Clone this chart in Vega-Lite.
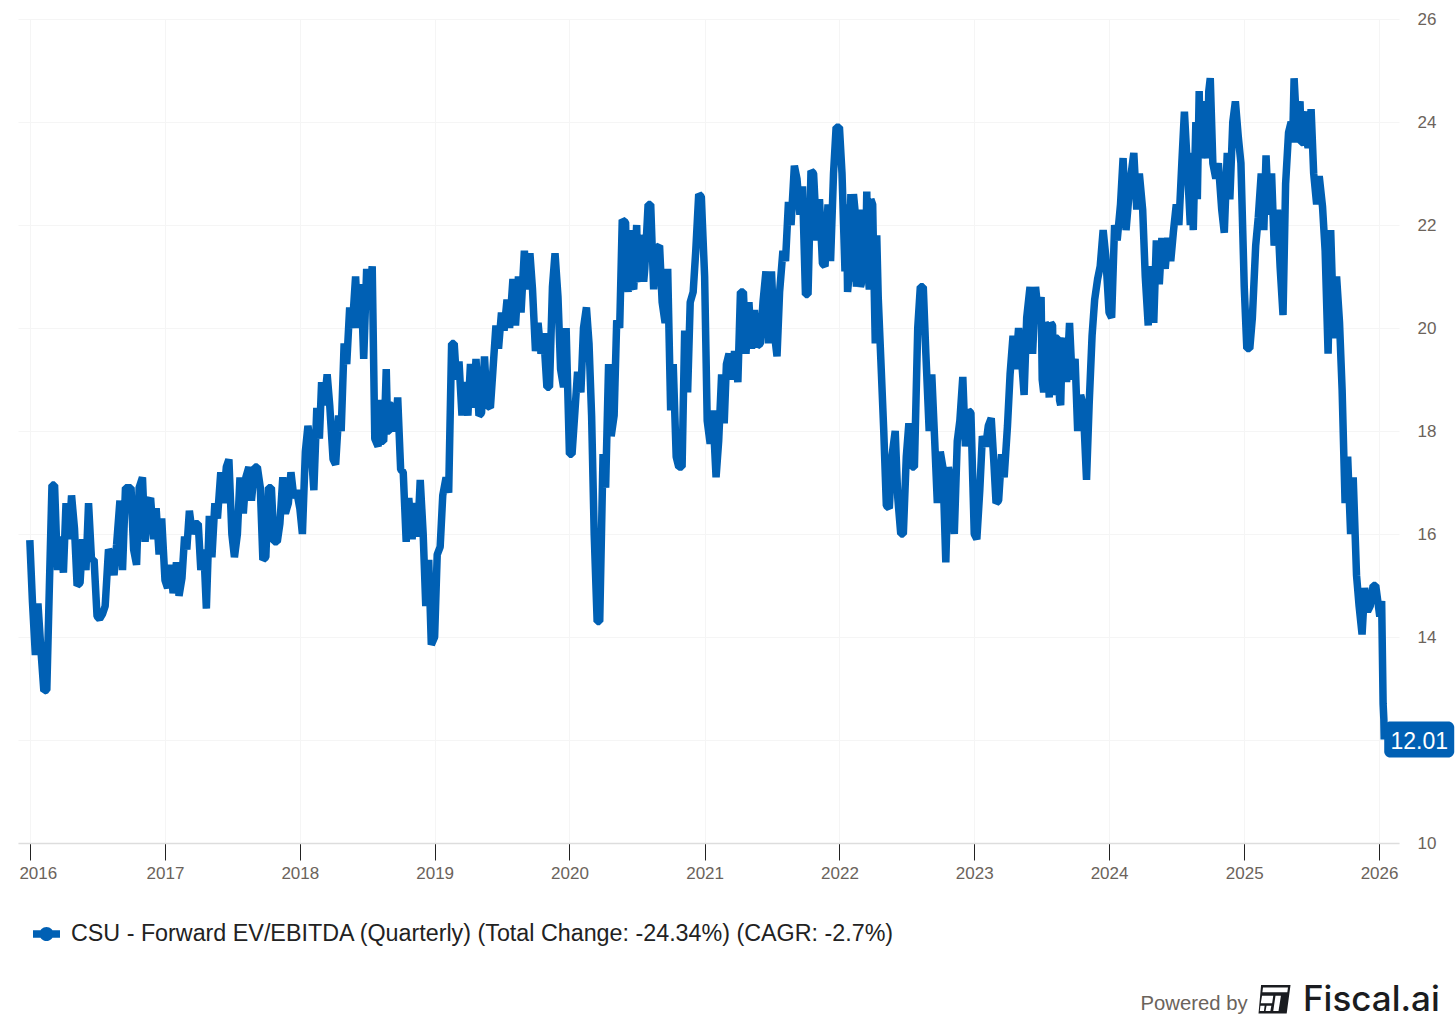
{"$schema":"https://vega.github.io/schema/vega-lite/v6.json","width":1381,"height":824,"autosize":{"type":"none"},"padding":{"left":18,"top":19,"right":57,"bottom":189},"background":"#ffffff","config":{"view":{"stroke":null},"font":"Liberation Sans"},
"data":{"values":[
{"d":"2016-01-01","v":15.88},{"d":"2016-01-08","v":14.7},{"d":"2016-01-16","v":13.65},{"d":"2016-01-23","v":14.65},{"d":"2016-02-01","v":13.65},{"d":"2016-02-08","v":12.95},{"d":"2016-02-16","v":12.97},{"d":"2016-02-23","v":15.0},{"d":"2016-03-01","v":16.95},{"d":"2016-03-08","v":16.95},{"d":"2016-03-16","v":15.3},{"d":"2016-03-23","v":15.95},{"d":"2016-04-01","v":15.25},{"d":"2016-04-08","v":16.6},{"d":"2016-04-16","v":15.9},{"d":"2016-04-23","v":16.75},{"d":"2016-05-01","v":16.1},{"d":"2016-05-08","v":15.0},{"d":"2016-05-16","v":15.05},{"d":"2016-05-23","v":15.9},{"d":"2016-06-01","v":15.3},{"d":"2016-06-08","v":16.6},{"d":"2016-06-16","v":15.5},{"d":"2016-06-23","v":15.5},{"d":"2016-07-01","v":14.4},{"d":"2016-07-08","v":14.35},{"d":"2016-07-16","v":14.45},{"d":"2016-07-23","v":14.6},{"d":"2016-08-01","v":15.7},{"d":"2016-08-08","v":15.6},{"d":"2016-08-16","v":15.2},{"d":"2016-08-23","v":15.8},{"d":"2016-09-01","v":16.65},{"d":"2016-09-08","v":15.3},{"d":"2016-09-16","v":16.9},{"d":"2016-09-23","v":16.9},{"d":"2016-10-01","v":16.9},{"d":"2016-10-08","v":15.7},{"d":"2016-10-16","v":15.4},{"d":"2016-10-23","v":16.9},{"d":"2016-11-01","v":17.1},{"d":"2016-11-08","v":15.85},{"d":"2016-11-16","v":16.6},{"d":"2016-11-23","v":16.7},{"d":"2016-12-01","v":15.9},{"d":"2016-12-08","v":16.5},{"d":"2016-12-16","v":15.6},{"d":"2016-12-23","v":16.3},
{"d":"2017-01-01","v":15.1},{"d":"2017-01-08","v":14.95},{"d":"2017-01-16","v":15.4},{"d":"2017-01-23","v":14.85},{"d":"2017-02-01","v":15.45},{"d":"2017-02-08","v":14.8},{"d":"2017-02-16","v":15.15},{"d":"2017-02-23","v":15.95},{"d":"2017-03-01","v":15.7},{"d":"2017-03-08","v":16.45},{"d":"2017-03-16","v":16.0},{"d":"2017-03-23","v":16.2},{"d":"2017-04-01","v":16.2},{"d":"2017-04-08","v":15.3},{"d":"2017-04-16","v":15.7},{"d":"2017-04-23","v":14.55},{"d":"2017-05-01","v":16.35},{"d":"2017-05-08","v":15.55},{"d":"2017-05-16","v":16.6},{"d":"2017-05-23","v":16.3},{"d":"2017-06-01","v":17.2},{"d":"2017-06-08","v":16.6},{"d":"2017-06-16","v":17.3},{"d":"2017-06-23","v":17.45},{"d":"2017-07-01","v":16.0},{"d":"2017-07-08","v":15.55},{"d":"2017-07-16","v":16.0},{"d":"2017-07-23","v":17.1},{"d":"2017-08-01","v":16.4},{"d":"2017-08-08","v":17.1},{"d":"2017-08-16","v":17.3},{"d":"2017-08-23","v":16.65},{"d":"2017-09-01","v":17.3},{"d":"2017-09-08","v":17.3},{"d":"2017-09-16","v":16.9},{"d":"2017-09-23","v":15.5},{"d":"2017-10-01","v":15.55},{"d":"2017-10-08","v":16.9},{"d":"2017-10-16","v":16.9},{"d":"2017-10-23","v":15.85},{"d":"2017-11-01","v":15.85},{"d":"2017-11-08","v":16.2},{"d":"2017-11-16","v":17.1},{"d":"2017-11-23","v":16.4},{"d":"2017-12-01","v":16.6},{"d":"2017-12-08","v":17.2},{"d":"2017-12-16","v":16.7},{"d":"2017-12-23","v":16.85},
{"d":"2018-01-01","v":16.5},{"d":"2018-01-08","v":16.0},{"d":"2018-01-16","v":17.6},{"d":"2018-01-23","v":18.1},{"d":"2018-02-01","v":17.6},{"d":"2018-02-08","v":16.85},{"d":"2018-02-16","v":18.45},{"d":"2018-02-23","v":17.85},{"d":"2018-03-01","v":18.95},{"d":"2018-03-08","v":18.5},{"d":"2018-03-16","v":19.1},{"d":"2018-03-23","v":18.5},{"d":"2018-04-01","v":17.45},{"d":"2018-04-08","v":17.35},{"d":"2018-04-16","v":18.3},{"d":"2018-04-23","v":18.0},{"d":"2018-05-01","v":19.7},{"d":"2018-05-08","v":19.3},{"d":"2018-05-16","v":20.4},{"d":"2018-05-23","v":20.0},{"d":"2018-06-01","v":21.0},{"d":"2018-06-08","v":20.0},{"d":"2018-06-16","v":20.85},{"d":"2018-06-23","v":19.4},{"d":"2018-07-01","v":21.15},{"d":"2018-07-08","v":20.5},{"d":"2018-07-16","v":21.2},{"d":"2018-07-23","v":17.85},{"d":"2018-08-01","v":17.7},{"d":"2018-08-04","v":18.4},{"d":"2018-08-08","v":18.6},{"d":"2018-08-12","v":17.8},{"d":"2018-08-16","v":17.8},{"d":"2018-08-20","v":18.5},{"d":"2018-08-23","v":19.2},{"d":"2018-08-27","v":18.0},{"d":"2018-09-01","v":18.0},{"d":"2018-09-04","v":18.5},{"d":"2018-09-08","v":18.5},{"d":"2018-09-12","v":18.1},{"d":"2018-09-16","v":18.0},{"d":"2018-09-23","v":18.65},{"d":"2018-10-01","v":17.25},{"d":"2018-10-08","v":17.2},{"d":"2018-10-16","v":15.85},{"d":"2018-10-23","v":16.7},{"d":"2018-11-01","v":15.9},{"d":"2018-11-08","v":16.6},{"d":"2018-11-16","v":15.95},{"d":"2018-11-23","v":17.05},{"d":"2018-12-01","v":16.0},{"d":"2018-12-08","v":14.6},{"d":"2018-12-16","v":15.5},{"d":"2018-12-23","v":13.85},
{"d":"2019-01-01","v":14.0},{"d":"2019-01-08","v":15.6},{"d":"2019-01-16","v":15.75},{"d":"2019-01-23","v":16.75},{"d":"2019-02-01","v":17.1},{"d":"2019-02-08","v":16.8},{"d":"2019-02-16","v":19.7},{"d":"2019-02-23","v":19.7},{"d":"2019-03-01","v":19.0},{"d":"2019-03-08","v":19.35},{"d":"2019-03-16","v":18.3},{"d":"2019-03-23","v":18.95},{"d":"2019-04-01","v":18.3},{"d":"2019-04-08","v":19.3},{"d":"2019-04-16","v":18.45},{"d":"2019-04-23","v":19.4},{"d":"2019-05-01","v":18.3},{"d":"2019-05-08","v":18.35},{"d":"2019-05-16","v":19.45},{"d":"2019-05-23","v":18.5},{"d":"2019-06-01","v":18.45},{"d":"2019-06-08","v":19.2},{"d":"2019-06-16","v":20.05},{"d":"2019-06-23","v":19.6},{"d":"2019-07-01","v":20.3},{"d":"2019-07-08","v":19.95},{"d":"2019-07-16","v":20.55},{"d":"2019-07-23","v":20.0},{"d":"2019-08-01","v":20.95},{"d":"2019-08-08","v":20.05},{"d":"2019-08-16","v":21.0},{"d":"2019-08-23","v":20.3},{"d":"2019-09-01","v":21.5},{"d":"2019-09-08","v":20.75},{"d":"2019-09-16","v":21.45},{"d":"2019-09-23","v":20.75},{"d":"2019-10-01","v":19.55},{"d":"2019-10-08","v":20.1},{"d":"2019-10-16","v":19.5},{"d":"2019-10-23","v":19.9},{"d":"2019-11-01","v":18.85},{"d":"2019-11-08","v":18.85},{"d":"2019-11-16","v":20.8},{"d":"2019-11-23","v":21.45},{"d":"2019-12-01","v":20.6},{"d":"2019-12-08","v":19.2},{"d":"2019-12-16","v":18.85},{"d":"2019-12-23","v":20.0},
{"d":"2020-01-01","v":17.55},{"d":"2020-01-08","v":17.55},{"d":"2020-01-16","v":18.4},{"d":"2020-01-23","v":19.15},{"d":"2020-02-01","v":18.75},{"d":"2020-02-08","v":20.0},{"d":"2020-02-16","v":20.4},{"d":"2020-02-23","v":19.7},{"d":"2020-03-01","v":18.3},{"d":"2020-03-08","v":16.0},{"d":"2020-03-16","v":14.3},{"d":"2020-03-23","v":14.3},{"d":"2020-04-01","v":17.55},{"d":"2020-04-08","v":16.9},{"d":"2020-04-16","v":19.3},{"d":"2020-04-23","v":17.9},{"d":"2020-05-01","v":18.3},{"d":"2020-05-08","v":20.15},{"d":"2020-05-16","v":20.0},{"d":"2020-05-23","v":22.1},{"d":"2020-06-01","v":22.05},{"d":"2020-06-04","v":21.0},{"d":"2020-06-08","v":20.7},{"d":"2020-06-12","v":21.9},{"d":"2020-06-16","v":21.5},{"d":"2020-06-20","v":20.8},{"d":"2020-06-23","v":20.75},{"d":"2020-07-01","v":22.0},{"d":"2020-07-04","v":21.0},{"d":"2020-07-08","v":20.9},{"d":"2020-07-12","v":21.8},{"d":"2020-07-16","v":21.7},{"d":"2020-07-20","v":20.9},{"d":"2020-07-23","v":21.15},{"d":"2020-08-01","v":22.4},{"d":"2020-08-08","v":22.4},{"d":"2020-08-16","v":20.75},{"d":"2020-08-23","v":21.55},{"d":"2020-09-01","v":21.6},{"d":"2020-09-08","v":20.5},{"d":"2020-09-16","v":20.1},{"d":"2020-09-23","v":21.15},{"d":"2020-10-01","v":18.4},{"d":"2020-10-08","v":19.3},{"d":"2020-10-16","v":17.5},{"d":"2020-10-23","v":17.3},{"d":"2020-11-01","v":17.3},{"d":"2020-11-08","v":19.95},{"d":"2020-11-16","v":18.75},{"d":"2020-11-23","v":20.5},{"d":"2020-12-01","v":20.7},{"d":"2020-12-08","v":21.5},{"d":"2020-12-16","v":22.6},{"d":"2020-12-23","v":22.55},
{"d":"2021-01-01","v":21.0},{"d":"2021-01-08","v":18.2},{"d":"2021-01-16","v":17.75},{"d":"2021-01-23","v":18.4},{"d":"2021-02-01","v":17.1},{"d":"2021-02-08","v":17.8},{"d":"2021-02-16","v":19.1},{"d":"2021-02-23","v":18.15},{"d":"2021-03-01","v":19.3},{"d":"2021-03-08","v":19.5},{"d":"2021-03-16","v":19.0},{"d":"2021-03-23","v":19.55},{"d":"2021-04-01","v":18.95},{"d":"2021-04-08","v":20.7},{"d":"2021-04-16","v":20.7},{"d":"2021-04-23","v":19.5},{"d":"2021-05-01","v":20.5},{"d":"2021-05-08","v":19.6},{"d":"2021-05-16","v":20.35},{"d":"2021-05-23","v":19.65},{"d":"2021-06-01","v":19.7},{"d":"2021-06-08","v":20.5},{"d":"2021-06-16","v":21.1},{"d":"2021-06-23","v":19.7},{"d":"2021-07-01","v":21.1},{"d":"2021-07-08","v":19.95},{"d":"2021-07-16","v":19.45},{"d":"2021-07-23","v":20.7},{"d":"2021-08-01","v":21.5},{"d":"2021-08-08","v":21.3},{"d":"2021-08-16","v":22.45},{"d":"2021-08-23","v":22.0},{"d":"2021-09-01","v":23.15},{"d":"2021-09-08","v":22.9},{"d":"2021-09-16","v":22.2},{"d":"2021-09-23","v":22.75},{"d":"2021-10-01","v":20.65},{"d":"2021-10-08","v":20.65},{"d":"2021-10-16","v":23.05},{"d":"2021-10-23","v":23.0},{"d":"2021-11-01","v":21.7},{"d":"2021-11-08","v":22.5},{"d":"2021-11-16","v":21.25},{"d":"2021-11-23","v":21.2},{"d":"2021-12-01","v":22.4},{"d":"2021-12-08","v":21.3},{"d":"2021-12-16","v":23.0},{"d":"2021-12-23","v":23.9},
{"d":"2022-01-01","v":23.9},{"d":"2022-01-08","v":23.0},{"d":"2022-01-16","v":21.1},{"d":"2022-01-20","v":22.4},{"d":"2022-01-23","v":20.7},{"d":"2022-01-27","v":21.0},{"d":"2022-02-01","v":22.6},{"d":"2022-02-04","v":20.9},{"d":"2022-02-08","v":22.6},{"d":"2022-02-12","v":22.3},{"d":"2022-02-16","v":20.8},{"d":"2022-02-20","v":22.2},{"d":"2022-02-23","v":21.9},{"d":"2022-02-27","v":20.8},{"d":"2022-03-01","v":20.85},{"d":"2022-03-04","v":22.3},{"d":"2022-03-08","v":21.5},{"d":"2022-03-12","v":20.9},{"d":"2022-03-16","v":22.65},{"d":"2022-03-20","v":21.0},{"d":"2022-03-23","v":20.75},{"d":"2022-03-27","v":22.5},{"d":"2022-04-01","v":22.4},{"d":"2022-04-05","v":20.8},{"d":"2022-04-08","v":19.7},{"d":"2022-04-12","v":21.8},{"d":"2022-04-16","v":20.6},{"d":"2022-04-23","v":19.4},{"d":"2022-05-01","v":18.0},{"d":"2022-05-08","v":16.55},{"d":"2022-05-16","v":16.5},{"d":"2022-05-23","v":17.5},{"d":"2022-06-01","v":18.0},{"d":"2022-06-08","v":16.7},{"d":"2022-06-16","v":16.0},{"d":"2022-06-23","v":16.0},{"d":"2022-07-01","v":17.5},{"d":"2022-07-08","v":18.15},{"d":"2022-07-16","v":17.3},{"d":"2022-07-23","v":17.3},{"d":"2022-08-01","v":20.0},{"d":"2022-08-08","v":20.8},{"d":"2022-08-16","v":20.8},{"d":"2022-08-23","v":19.5},{"d":"2022-09-01","v":18.0},{"d":"2022-09-08","v":19.1},{"d":"2022-09-16","v":17.8},{"d":"2022-09-23","v":16.6},{"d":"2022-10-01","v":17.6},{"d":"2022-10-08","v":17.3},{"d":"2022-10-16","v":15.45},{"d":"2022-10-23","v":17.3},{"d":"2022-11-01","v":16.9},{"d":"2022-11-08","v":16.0},{"d":"2022-11-16","v":17.8},{"d":"2022-11-23","v":18.2},{"d":"2022-12-01","v":19.05},{"d":"2022-12-08","v":17.7},{"d":"2022-12-16","v":18.4},{"d":"2022-12-23","v":18.35},
{"d":"2023-01-01","v":16.0},{"d":"2023-01-08","v":15.9},{"d":"2023-01-16","v":16.85},{"d":"2023-01-23","v":17.9},{"d":"2023-02-01","v":17.7},{"d":"2023-02-08","v":18.1},{"d":"2023-02-16","v":18.25},{"d":"2023-02-23","v":17.4},{"d":"2023-03-01","v":16.6},{"d":"2023-03-08","v":16.65},{"d":"2023-03-16","v":17.55},{"d":"2023-03-23","v":17.1},{"d":"2023-04-01","v":18.1},{"d":"2023-04-08","v":19.1},{"d":"2023-04-16","v":19.85},{"d":"2023-04-23","v":19.2},{"d":"2023-05-01","v":20.0},{"d":"2023-05-08","v":19.5},{"d":"2023-05-16","v":18.7},{"d":"2023-05-23","v":20.2},{"d":"2023-06-01","v":20.8},{"d":"2023-06-08","v":19.5},{"d":"2023-06-16","v":20.8},{"d":"2023-06-23","v":20.3},{"d":"2023-07-01","v":20.6},{"d":"2023-07-04","v":19.0},{"d":"2023-07-08","v":18.75},{"d":"2023-07-12","v":20.1},{"d":"2023-07-16","v":20.05},{"d":"2023-07-20","v":19.2},{"d":"2023-07-23","v":18.65},{"d":"2023-07-27","v":20.1},{"d":"2023-08-01","v":20.05},{"d":"2023-08-04","v":18.7},{"d":"2023-08-08","v":18.9},{"d":"2023-08-12","v":19.8},{"d":"2023-08-16","v":19.8},{"d":"2023-08-20","v":18.6},{"d":"2023-08-23","v":18.5},{"d":"2023-08-27","v":19.7},{"d":"2023-09-01","v":19.8},{"d":"2023-09-08","v":18.95},{"d":"2023-09-16","v":20.1},{"d":"2023-09-23","v":19.0},{"d":"2023-10-01","v":19.4},{"d":"2023-10-08","v":18.0},{"d":"2023-10-16","v":18.7},{"d":"2023-10-23","v":18.5},{"d":"2023-11-01","v":17.05},{"d":"2023-11-08","v":18.5},{"d":"2023-11-16","v":19.85},{"d":"2023-11-23","v":20.55},{"d":"2023-12-01","v":20.95},{"d":"2023-12-08","v":21.2},{"d":"2023-12-16","v":21.9},{"d":"2023-12-23","v":21.4},
{"d":"2024-01-01","v":20.3},{"d":"2024-01-08","v":20.2},{"d":"2024-01-16","v":22.0},{"d":"2024-01-23","v":21.7},{"d":"2024-02-01","v":22.4},{"d":"2024-02-08","v":23.3},{"d":"2024-02-16","v":21.9},{"d":"2024-02-23","v":22.5},{"d":"2024-03-01","v":23.0},{"d":"2024-03-08","v":23.4},{"d":"2024-03-16","v":22.3},{"d":"2024-03-23","v":23.0},{"d":"2024-04-01","v":22.3},{"d":"2024-04-08","v":21.0},{"d":"2024-04-16","v":20.05},{"d":"2024-04-23","v":21.2},{"d":"2024-05-01","v":20.1},{"d":"2024-05-08","v":21.7},{"d":"2024-05-16","v":20.85},{"d":"2024-05-23","v":21.75},{"d":"2024-06-01","v":21.15},{"d":"2024-06-08","v":21.75},{"d":"2024-06-16","v":21.3},{"d":"2024-06-23","v":21.85},{"d":"2024-07-01","v":22.4},{"d":"2024-07-08","v":22.0},{"d":"2024-07-16","v":23.2},{"d":"2024-07-23","v":24.2},{"d":"2024-08-01","v":23.0},{"d":"2024-08-08","v":22.0},{"d":"2024-08-12","v":23.4},{"d":"2024-08-16","v":21.9},{"d":"2024-08-23","v":24.0},{"d":"2024-08-27","v":22.5},{"d":"2024-09-01","v":24.6},{"d":"2024-09-04","v":23.4},{"d":"2024-09-08","v":23.3},{"d":"2024-09-12","v":24.4},{"d":"2024-09-16","v":24.3},{"d":"2024-09-20","v":23.4},{"d":"2024-09-23","v":23.3},{"d":"2024-09-27","v":24.6},{"d":"2024-10-01","v":24.85},{"d":"2024-10-08","v":23.2},{"d":"2024-10-16","v":22.9},{"d":"2024-10-23","v":23.2},{"d":"2024-11-01","v":22.3},{"d":"2024-11-08","v":21.85},{"d":"2024-11-16","v":23.4},{"d":"2024-11-23","v":22.5},{"d":"2024-12-01","v":24.0},{"d":"2024-12-08","v":24.4},{"d":"2024-12-16","v":23.7},{"d":"2024-12-23","v":23.2},
{"d":"2025-01-01","v":20.8},{"d":"2025-01-08","v":19.6},{"d":"2025-01-16","v":19.6},{"d":"2025-01-23","v":20.2},{"d":"2025-02-01","v":21.6},{"d":"2025-02-08","v":22.15},{"d":"2025-02-16","v":23.0},{"d":"2025-02-23","v":21.9},{"d":"2025-03-01","v":23.35},{"d":"2025-03-08","v":22.2},{"d":"2025-03-16","v":23.0},{"d":"2025-03-23","v":21.6},{"d":"2025-04-01","v":22.3},{"d":"2025-04-08","v":21.2},{"d":"2025-04-16","v":20.25},{"d":"2025-04-23","v":22.8},{"d":"2025-05-01","v":23.8},{"d":"2025-05-08","v":24.0},{"d":"2025-05-12","v":23.6},{"d":"2025-05-16","v":24.85},{"d":"2025-05-20","v":24.3},{"d":"2025-05-23","v":23.6},{"d":"2025-05-27","v":24.2},{"d":"2025-06-01","v":24.4},{"d":"2025-06-04","v":23.6},{"d":"2025-06-08","v":23.6},{"d":"2025-06-12","v":24.1},{"d":"2025-06-16","v":24.2},{"d":"2025-06-20","v":23.6},{"d":"2025-06-23","v":23.5},{"d":"2025-06-27","v":23.7},{"d":"2025-07-01","v":24.25},{"d":"2025-07-08","v":23.0},{"d":"2025-07-16","v":22.4},{"d":"2025-07-23","v":22.95},{"d":"2025-08-01","v":22.35},{"d":"2025-08-08","v":21.5},{"d":"2025-08-16","v":19.5},{"d":"2025-08-23","v":21.9},{"d":"2025-09-01","v":19.8},{"d":"2025-09-08","v":21.0},{"d":"2025-09-16","v":20.1},{"d":"2025-09-23","v":18.8},{"d":"2025-10-01","v":16.6},{"d":"2025-10-08","v":17.5},{"d":"2025-10-16","v":16.0},{"d":"2025-10-23","v":17.1},{"d":"2025-11-01","v":15.2},{"d":"2025-11-08","v":14.6},{"d":"2025-11-16","v":14.05},{"d":"2025-11-23","v":14.95},{"d":"2025-12-01","v":14.5},{"d":"2025-12-08","v":14.6},{"d":"2025-12-16","v":15.0},{"d":"2025-12-23","v":15.0},
{"d":"2026-01-03","v":14.4},{"d":"2026-01-08","v":14.7},{"d":"2026-01-12","v":12.7},{"d":"2026-01-14","v":12.4},{"d":"2026-01-15","v":12.01}
]},
"encoding":{
"x":{"field":"d","type":"temporal","title":null,"scale":{"domain":["2015-11-30","2026-02-24"]},"axis":{"tickCount":{"interval":"year","step":1},"format":"%Y","labelFont":"Liberation Sans","labelFontSize":17,"labelColor":"#6b635b","labelPadding":5,"labelFlush":false,"labelOverlap":false,"labelOffset":{"condition":{"test":"year(datum.value)==2016","value":8},"value":0},"tickColor":"#222222","tickSize":17,"tickWidth":1,"domainColor":"#dddddd","domainWidth":1.5,"gridColor":"#f5f5f5","gridWidth":1}},
"y":{"field":"v","type":"quantitative","title":null,"scale":{"domain":[10,26],"nice":false,"zero":false},"axis":{"orient":"right","values":[10,12,14,16,18,20,22,24,26],"labelExpr":"datum.value==12?'':datum.label","labelFont":"Liberation Sans","labelFontSize":17,"labelColor":"#6b635b","labelPadding":18,"domain":false,"ticks":false,"gridColor":"#f5f5f5","gridWidth":1}}
},
"layer":[
{"mark":{"type":"line","strokeWidth":7.5,"strokeJoin":"bevel","interpolate":"linear"},"encoding":{"color":{"datum":"CSU - Forward EV/EBITDA (Quarterly) (Total Change: -24.34%) (CAGR: -2.7%)","scale":{"range":["#0060b4"]},"legend":{"title":null,"orient":"none","legendX":15,"legendY":900,"symbolType":"M-1,-0.27H1V0.27H-1Z M-0.52,0A0.52,0.52 0 1 1 0.52,0A0.52,0.52 0 1 1 -0.52,0Z","symbolSize":729,"symbolFillColor":"#0060b4","symbolStrokeColor":"#0060b4","symbolStrokeWidth":0,"labelFont":"Liberation Sans","labelFontSize":23.3,"labelColor":"#222222","labelLimit":1000,"labelOffset":11,"padding":0,"clipHeight":30}}}},
{"transform":[{"filter":{"field":"v","equal":12.01}}],"mark":{"type":"rect","width":70,"height":36,"xOffset":35,"cornerRadius":6,"color":"#0060b4"}},
{"transform":[{"filter":{"field":"v","equal":12.01}}],"mark":{"type":"text","dx":35,"dy":3,"align":"center","baseline":"middle","font":"Liberation Sans","fontSize":23,"color":"#ffffff"},"encoding":{"text":{"field":"v","type":"quantitative","format":".2f"}}},
{"data":{"values":[{"d":"2024-03-26","v":6.87,"t":"Powered by"}]},"mark":{"type":"text","align":"left","baseline":"middle","font":"Liberation Sans","fontSize":20.3,"color":"#6b635b"},"encoding":{"text":{"field":"t"}}},
{"data":{"values":[{"d":"2025-06-09","v":6.95,"t":"Fiscal.ai"}]},"mark":{"type":"text","align":"left","baseline":"middle","font":"Inter","fontSize":35,"fontWeight":500,"color":"#1a1c20"},"encoding":{"text":{"field":"t"}}},
{"data":{"values":[{"d":"2025-03-24","v":6.97}]},"mark":{"type":"point","filled":true,"opacity":1,"size":1024,"color":"#1a1c20","shape":"M-0.84,-0.88H1L0.76,0.9H-1Z M-0.72,-0.72L-0.76,-0.42H0.80L0.84,-0.72Z M-0.78,-0.2L-0.86,0.27H-0.15L-0.08,-0.2Z M-0.88,0.42L-0.92,0.74H-0.66L-0.62,0.42Z M-0.5,0.42L-0.56,0.74H-0.26L-0.2,0.42Z M0.06,-0.2L-0.08,0.74H0.25L0.4,-0.2Z"}}
]}
